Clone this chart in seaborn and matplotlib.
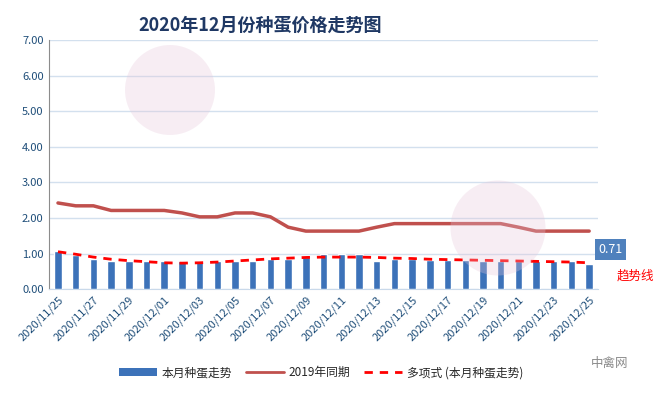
import numpy as np
import pandas as pd
import matplotlib
matplotlib.use('Agg')
import matplotlib.pyplot as plt
import seaborn as sns
from matplotlib.patches import Patch, Ellipse
from matplotlib.lines import Line2D

sns.set_style('white')
plt.rcParams['font.family'] = ['Noto Sans CJK SC', 'DejaVu Sans']
plt.rcParams['axes.unicode_minus'] = False

# 日期 2020/11/25 - 2020/12/25
dates = pd.date_range('2020-11-25', '2020-12-25').strftime('%Y/%m/%d').tolist()
# 本月种蛋走势
price_2020 = [1.07, 0.95, 0.86, 0.79, 0.79, 0.79, 0.79, 0.79, 0.79, 0.79,
              0.79, 0.79, 0.86, 0.86, 0.90, 0.98, 0.98, 0.98, 0.79, 0.86,
              0.86, 0.83, 0.83, 0.83, 0.79, 0.79, 0.79, 0.79, 0.79, 0.79, 0.71]
# 2019年同期
price_2019 = [2.42, 2.34, 2.34, 2.21, 2.21, 2.21, 2.21, 2.14, 2.03, 2.03,
              2.14, 2.14, 2.03, 1.74, 1.63, 1.63, 1.63, 1.63, 1.74, 1.84,
              1.84, 1.84, 1.84, 1.84, 1.84, 1.84, 1.74, 1.63, 1.63, 1.63, 1.63]
# 多项式趋势线
trend = [1.05, 0.98, 0.90, 0.84, 0.80, 0.77, 0.74, 0.73, 0.74, 0.76,
         0.79, 0.82, 0.85, 0.87, 0.89, 0.90, 0.90, 0.90, 0.89, 0.87,
         0.86, 0.84, 0.83, 0.82, 0.81, 0.80, 0.79, 0.78, 0.77, 0.76, 0.74]

bar_color = '#3C72B9'
c2019 = '#C0504D'
txt_color = '#1F4E79'

df = pd.DataFrame({'date': dates, 'p2020': price_2020, 'p2019': price_2019, 'trend': trend})
df['idx'] = np.arange(len(df))

W, H = 655, 395
fig = plt.figure(figsize=(W / 100, H / 100), dpi=100)
ax = fig.add_axes([0.075, 0.268, 0.838, 0.631])

# 水印 (圆形)
for cx, cy, d in [(170, 90, 90), (498, 228, 95)]:
    fig.patches.append(Ellipse((cx / W, 1 - cy / H), d / W, d / H,
                               transform=fig.transFigure, facecolor='#E6C6DA',
                               edgecolor='none', alpha=0.3, zorder=0))

sns.barplot(data=df, x='idx', y='p2020', color=bar_color, width=0.42,
            saturation=1, ax=ax, zorder=3)
sns.lineplot(data=df, x='idx', y='p2019', color=c2019, lw=2.5, ax=ax, zorder=4)
sns.lineplot(data=df, x='idx', y='trend', color='#FF0000', lw=2,
             dashes=False, ax=ax, zorder=5)
ax.lines[-1].set_dashes((3, 2.5))

ax.set_xlim(-0.5, len(df) - 0.5)
ax.set_ylim(0, 7)
ax.set_yticks(np.arange(0, 8, 1))
ax.set_yticklabels([f'{v:.2f}' for v in np.arange(0, 8, 1)], color=txt_color, fontsize=8)
ax.set_xticks(df['idx'][::2])
ax.set_xticklabels(df['date'][::2], rotation=45, ha='right', rotation_mode='anchor',
                   color=txt_color, fontsize=8)
ax.tick_params(axis='both', length=0, pad=4)
ax.set_xlabel('')
ax.set_ylabel('')
ax.grid(axis='y', color='#D3E0EE', lw=1, zorder=0)
ax.set_axisbelow(True)
for s in ['top', 'right']:
    ax.spines[s].set_visible(False)
ax.spines['left'].set_color('#8C8C8C')
ax.spines['bottom'].set_color('#C9D9EA')

# 数据标签
ax.text(31.2, 1.12, f'{price_2020[-1]:.2f}', color='white', fontsize=9,
        ha='center', va='center', clip_on=False,
        bbox=dict(boxstyle='square,pad=0.3', facecolor='#4F81BD', edgecolor='none'))
ax.text(32.6, 0.37, '趋势线', color='#FF0000', fontsize=9, ha='center', va='center',
        clip_on=False)

fig.text(0.397, 0.935, '2020年12月份种蛋价格走势图', fontsize=13, fontweight='bold',
         color='#1F3864', ha='center', va='center')

handles = [Patch(facecolor=bar_color, edgecolor='none'),
           Line2D([], [], color=c2019, lw=2),
           Line2D([], [], color='#FF0000', lw=2, ls=(0, (3, 2.5)))]
labels = ['本月种蛋走势', '2019年同期', '多项式 (本月种蛋走势)']
fig.legend(handles, labels, loc='center', bbox_to_anchor=(0.49, 0.056), ncol=3,
           frameon=False, fontsize=8.5, handlelength=3.2, columnspacing=1.2,
           handletextpad=0.4)

fig.text(0.93, 0.08, '中禽网', color='#8A8A8A', fontsize=9, ha='center', va='center')

fig.savefig('out.png', dpi=100)
